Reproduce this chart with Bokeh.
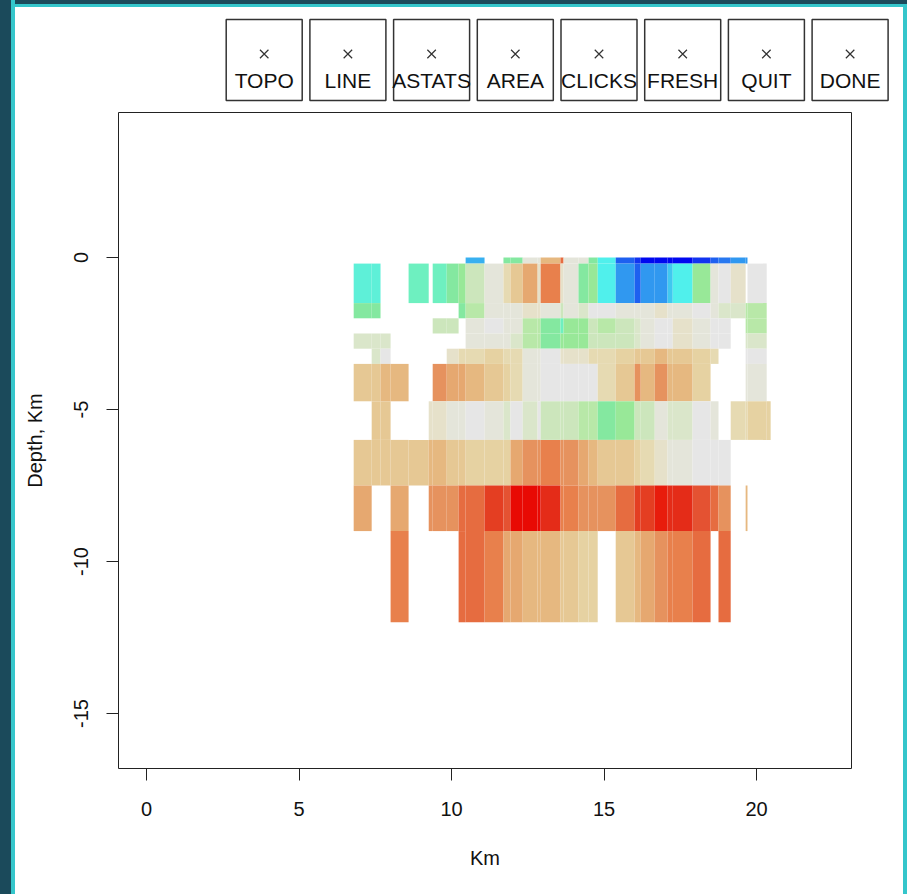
import math
from bokeh.plotting import figure
from bokeh.layouts import column
from bokeh.models import ColumnDataSource, LinearColorMapper, Range1d, FixedTicker
from bokeh.embed import file_html
from bokeh.resources import INLINE
from bokeh.core.properties import value

FONT = "Liberation Sans"

# ---------------- data ----------------
buttons = ["TOPO", "LINE", "ASTATS", "AREA", "CLICKS", "FRESH", "QUIT", "DONE"]

# cell edges along the profile (km)
x_edges = [6.79, 7.38, 7.67, 8.00, 8.59, 9.25, 9.38, 9.84, 10.23, 10.46, 11.08,
           11.70, 11.93, 12.33, 12.82, 12.92, 13.57, 13.67, 14.16, 14.49, 14.79,
           15.38, 16.00, 16.20, 16.66, 17.08, 17.25, 17.90, 18.49, 18.75, 19.15,
           19.64, 19.70, 20.33, 20.46]
# layer edges (depth, km)
depth_edges = [0.0, -0.2, -1.5, -2.0, -2.5, -3.0, -3.5, -4.73, -6.0, -7.5, -9.0, -12.0]

# colour scale: low (blue) .. neutral (grey) .. high (red)
palette = ["#0008F0", "#1234F0", "#1E60F0", "#2878F0", "#3098F0", "#38B0F0",
           "#40C8F0", "#50F0EC", "#5EF0D8", "#6EF0C0", "#84E8A0", "#98E898",
           "#B8E8A8", "#CCE6BC", "#DAE6CA", "#E4E5DA", "#E6E6E6", "#E6E1CA",
           "#E6DAB2", "#E6D2A2", "#E6C894", "#E6B880", "#E6A870", "#E6925E",
           "#E8804C", "#E66C40", "#E45232", "#E43E22", "#E42C18", "#E81C0C",
           "#E80A04"]

N = None
layer_0 = [N, N, N, N, N, N, N, N, N, 5, N, 10, 10, 15, 15, 21, 25, 15, 15, 10, 7, 2, 1, 0, 0, 0, 0, 1, 2, 3, 4, 4, N, N]
layer_1 = [8, 8, N, N, 9, N, 9, 10, 11, 13, 15, 18, 20, 22, 17, 24, 17, 15, 10, 11, 7, 4, 2, 4, 4, 6, 7, 11, 15, 16, 17, N, 16, N]
layer_2 = [10, 10, N, N, N, N, N, N, 10, 12, 15, 15, 15, 17, 17, 15, 13, 15, 14, 16, 16, 15, 15, 15, 17, 15, 15, 16, 15, 14, 14, 12, 12, N]
layer_3 = [N, N, N, N, N, N, 13, 13, N, 15, 16, 15, 15, 12, 12, 10, 9, 11, 11, 13, 12, 13, 14, 15, 16, 16, 17, 15, 16, 16, N, 12, 12, N]
layer_4 = [14, 14, 14, N, N, N, N, N, N, 15, 15, 15, 14, 12, 12, 10, 11, 11, 11, 13, 13, 13, 14, 15, 16, 16, 17, 15, 16, 16, N, 14, 14, N]
layer_5 = [N, 14, 16, N, N, N, N, 17, 18, 18, 19, 18, 18, 15, 15, 16, 17, 17, 17, 18, 18, 19, 20, 20, 21, 20, 20, 19, 18, N, N, 16, 16, N]
layer_6 = [20, 20, 21, 21, N, N, 23, 22, 22, 21, 20, 19, 18, 15, 15, 16, 16, 16, 16, 16, 18, 20, 23, 21, 23, 21, 21, 19, N, N, N, 15, 15, N]
layer_7 = [N, 20, 20, N, N, 17, 17, 15, 15, 16, 15, 14, 16, 14, 16, 13, 13, 13, 12, 12, 10, 11, 13, 13, 15, 14, 14, 16, 15, N, 18, 18, 19, 19]
layer_8 = [20, 20, 20, 20, 20, 21, 21, 20, 20, 19, 19, 19, 22, 23, 23, 24, 23, 23, 22, 21, 20, 20, 19, 18, 17, 15, 15, 16, 16, 16, N, N, N, N]
layer_9 = [22, N, N, 22, N, 23, 23, 23, 25, 25, 27, 26, 30, 30, 30, 28, 24, 24, 23, 23, 23, 25, 27, 27, 29, 28, 28, 26, 25, 23, N, 21, N, N]
layer_10 = [N, N, N, 24, N, N, N, N, 25, 25, 24, 22, 22, 21, 21, 21, 20, 20, 19, 19, N, 20, 21, 22, 23, 24, 24, 25, N, 25, N, N, N, N]
layers = [layer_0, layer_1, layer_2, layer_3, layer_4, layer_5, layer_6,
          layer_7, layer_8, layer_9, layer_10]

x_ticks = [0, 5, 10, 15, 20]
x_tick_labels = ["0", "5", "10", "15", "20"]
y_ticks = [0, -5, -10, -15]
y_tick_labels = ["0", "-5", "-10", "-15"]

# ---------------- layout ----------------
W = 905
TOP_H = 108
BOT_H = 785

# button bar (page-pixel coordinates)
top = figure(width=W, height=TOP_H, x_range=Range1d(0, W),
             y_range=Range1d(TOP_H, 0), output_backend="svg",
             toolbar_location=None, min_border=0,
             x_axis_location=None, y_axis_location=None)
top.frame_align = False
top.outline_line_color = None
top.background_fill_color = None
top.border_fill_color = None
top.grid.visible = False

b_left = [225.7 + 83.7 * i for i in range(len(buttons))]
b_right = [b + 76 for b in b_left]
b_mid = [b + 38 for b in b_left]
top.quad(left=b_left, right=b_right, top=[19] * len(buttons), bottom=[100] * len(buttons),
         fill_color=None, line_color="#333333", line_width=1.5)
top.scatter(x=b_mid, y=[53.5] * len(buttons), marker="x", size=12,
            line_color="#333333", line_width=1.2)
top.text(x=b_mid, y=[80] * len(buttons), text=buttons, text_font=value(FONT),
         text_font_size="21px", text_align="center", text_baseline="middle",
         text_color="#111111")

# main section plot
p = figure(width=W, height=BOT_H, x_range=Range1d(-0.92, 23.11),
           y_range=Range1d(-16.81, 4.77), output_backend="svg",
           toolbar_location=None, min_border_left=118, min_border_right=54,
           min_border_top=4, min_border_bottom=125)
p.frame_align = False
p.background_fill_color = "white"
p.border_fill_color = None
p.outline_line_color = "#222222"
p.outline_line_width = 1
p.grid.visible = False

lefts, rights, tops, bottoms, vals = [], [], [], [], []
for i, layer in enumerate(layers):
    for j, v in enumerate(layer):
        if v is None:
            continue
        lefts.append(x_edges[j])
        rights.append(x_edges[j + 1])
        tops.append(depth_edges[i])
        bottoms.append(depth_edges[i + 1])
        vals.append(v)
src = ColumnDataSource(dict(left=lefts, right=rights, top=tops, bottom=bottoms, v=vals))
mapper = LinearColorMapper(palette=palette, low=-0.5, high=len(palette) - 0.5)
p.quad(left="left", right="right", top="top", bottom="bottom", source=src,
       fill_color={"field": "v", "transform": mapper}, line_color=None)

for ax in (p.xaxis[0], p.yaxis[0]):
    ax.axis_line_color = None
    ax.major_tick_out = 12
    ax.major_tick_in = 0
    ax.major_tick_line_color = "#222222"
    ax.minor_tick_line_color = None
    ax.major_label_text_font = FONT
    ax.major_label_text_font_size = "20px"
    ax.major_label_text_color = "#111111"
    ax.axis_label_text_font = FONT
    ax.axis_label_text_font_size = "20px"
    ax.axis_label_text_font_style = "normal"
    ax.axis_label_text_color = "#111111"

p.xaxis.ticker = FixedTicker(ticks=x_ticks)
p.xaxis.major_label_overrides = {t: s for t, s in zip(x_ticks, x_tick_labels)}
p.xaxis.major_label_standoff = 21
p.xaxis.axis_label = "Km"
p.xaxis.axis_label_standoff = 28

p.yaxis.ticker = FixedTicker(ticks=y_ticks)
p.yaxis.major_label_overrides = {t: s for t, s in zip(y_ticks, y_tick_labels)}
p.yaxis.major_label_orientation = "parallel"
p.yaxis.major_label_standoff = 18
p.yaxis.axis_label = "Depth, Km"
p.yaxis.axis_label_standoff = 26

layout = column(top, p)

style = ("<style>html{height:100%;background:"
         "linear-gradient(to right,#1b4a5b 11px,#35c6cb 11px,#35c6cb 15px,rgba(255,255,255,0) 15px),"
         "linear-gradient(to bottom,#1b4a5b 4px,#35c6cb 4px,#35c6cb 7px,rgba(255,255,255,0) 7px),"
         "linear-gradient(to left,#35c6cb 4px,rgba(255,255,255,0) 4px),"
         "#ffffff;}body{background:transparent;}</style>")
html = file_html(layout, INLINE, title="section")
html = html.replace("</head>", style + "</head>", 1)
open("out.html", "w").write(html)
